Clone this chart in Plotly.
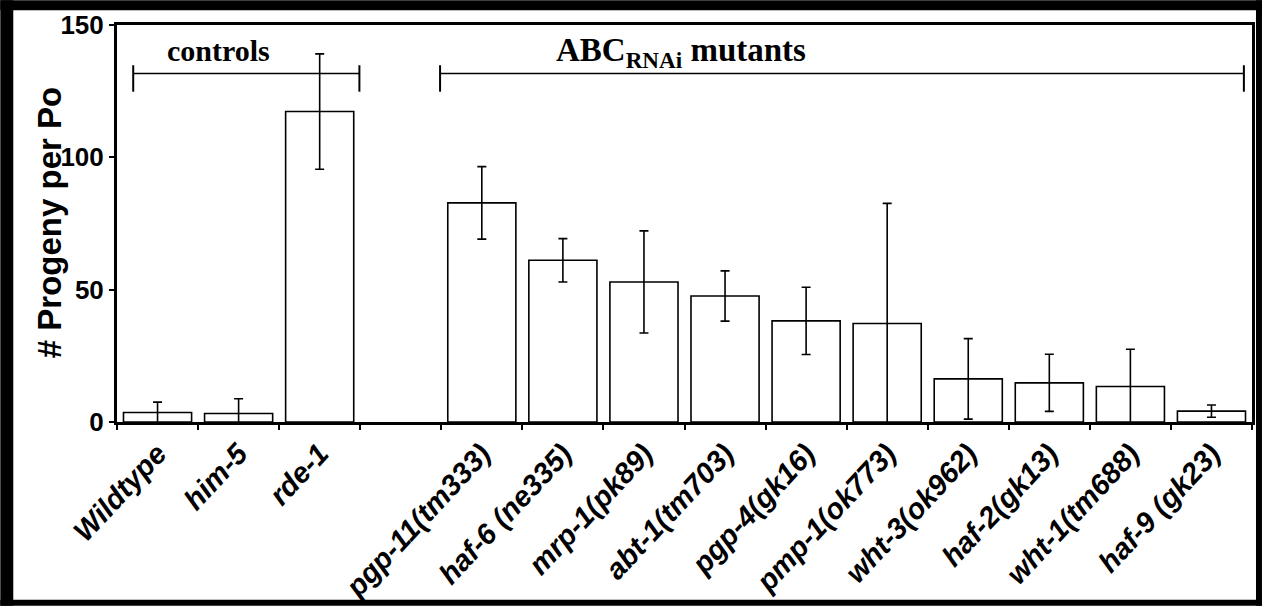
import plotly.graph_objects as go

# ---- data ----
categories = ["Wildtype", "him-5", "rde-1", " ",
              "pgp-11(tm333)", "haf-6 (ne335)", "mrp-1(pk89)", "abt-1(tm703)",
              "pgp-4(gk16)", "pmp-1(ok773)", "wht-3(ok962)", "haf-2(gk13)",
              "wht-1(tm688)", "haf-9 (gk23)"]
progeny = [3.6, 3.2, 117.3, None, 82.8, 61.1, 52.9, 47.6, 38.2, 37.2, 16.3, 14.8, 13.4, 4.1]
progeny_err = [3.9, 5.6, 21.8, 0, 13.7, 8.2, 19.3, 9.5, 12.7, 45.4, 15.2, 10.8, 14.1, 2.3]
y_tick_vals = [0, 50, 100, 150]
y_title = "# Progeny per Po"

group_labels = ["controls", "ABC<sub>RNAi</sub> mutants"]
group_first = ["Wildtype", "pgp-11(tm333)"]
group_last = ["rde-1", "haf-9 (gk23)"]

# ---- layout geometry (pixels) ----
W, H = 1265, 613
L, R, T, B = 117, 10, 25, 186
pw, ph = W - L - R, H - T - B

def px_x(px):
    return (px - L) / pw

def px_y(py):
    return (H - B - py) / ph

fig = go.Figure()
fig.add_trace(go.Bar(
    x=categories, y=progeny,
    marker=dict(color="white", line=dict(color="black", width=1.6)),
    error_y=dict(type="data", array=progeny_err, visible=True,
                 color="black", thickness=1.6, width=4.5),
    showlegend=False,
))

shapes = []
annotations = []

# group brackets
idx = {c: i for i, c in enumerate(categories)}
bracket_spans = [(idx[group_first[0]] - 0.3, idx[group_last[0]] + 0.49),
                 (idx[group_first[1]] - 0.515, idx[group_last[1]] + 0.4)]
bracket_y = 131.7
label_y = [140.5, 139.5]
label_x = [0.75, 6.46]
label_size = [30, 33]
for (x0, x1), lab, lx, ly, ls in zip(bracket_spans, group_labels, label_x, label_y, label_size):
    shapes.append(dict(type="line", xref="x", yref="y", x0=x0, x1=x1,
                       y0=bracket_y, y1=bracket_y, line=dict(color="black", width=1.5)))
    for xx in (x0, x1):
        shapes.append(dict(type="line", xref="x", yref="y", x0=xx, x1=xx,
                           y0=124.8, y1=134.8, line=dict(color="black", width=2)))
    annotations.append(dict(x=lx, y=ly, xref="x", yref="y", text="<b>" + lab + "</b>",
                            showarrow=False,
                            font=dict(family="Liberation Serif, Times New Roman, serif",
                                      size=ls, color="black")))

# y title
annotations.append(dict(x=px_x(29), y=px_y(225), xref="paper", yref="paper",
                        text="<b>" + y_title + "</b>", textangle=-90, showarrow=False,
                        font=dict(family="Liberation Sans, Arial, sans-serif",
                                  size=33, color="black")))

# outer black frame
frame = [(0, 0, W, 10), (0, 0, 13, H), (W - 6, 0, W, H), (0, H - 6, W, H)]
for x0, y0, x1, y1 in frame:
    shapes.append(dict(type="rect", xref="paper", yref="paper",
                       x0=px_x(x0), x1=px_x(x1), y0=px_y(y0), y1=px_y(y1),
                       fillcolor="black", line=dict(width=0), layer="above"))

fig.update_layout(
    width=W, height=H,
    margin=dict(l=L, r=R, t=T, b=B, pad=0),
    paper_bgcolor="white", plot_bgcolor="white",
    bargap=0.16,
    shapes=shapes, annotations=annotations,
    xaxis=dict(type="category", categoryorder="array", categoryarray=categories,
               range=[-0.5, len(categories) - 0.5],
               showline=True, linecolor="black", linewidth=3, mirror=True,
               ticks="outside", tickson="boundaries", ticklen=5, tickwidth=2,
               tickcolor="black", tickangle=-47, showgrid=False, zeroline=False,
               tickfont=dict(family="Liberation Sans, Arial, sans-serif", size=29,
                             color="black", weight="bold", style="italic")),
    yaxis=dict(range=[0, 150], tickvals=y_tick_vals,
               showline=True, linecolor="black", linewidth=3, mirror=True,
               ticks="outside", ticklen=5, tickwidth=2, tickcolor="black",
               showgrid=False, zeroline=False,
               tickfont=dict(family="Liberation Sans, Arial, sans-serif", size=26,
                             color="black", weight="bold")),
)

fig.write_html(
    "out.html", config={"displayModeBar": False},
    post_script=("document.documentElement.style.overflow='hidden';"
                 "document.body.style.overflow='hidden';"
                 "document.body.style.margin='0';document.body.style.padding='0';"))
